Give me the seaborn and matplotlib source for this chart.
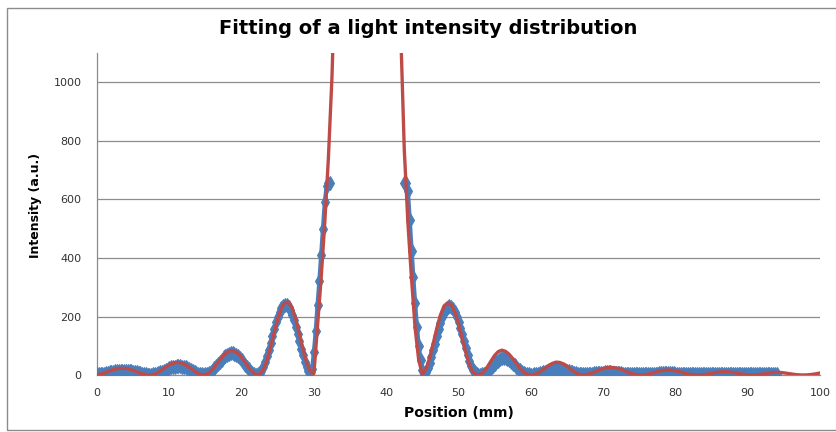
import numpy as np
import pandas as pd
import matplotlib
matplotlib.use('Agg')
import matplotlib.pyplot as plt
from matplotlib.patches import Rectangle
import seaborn as sns

# Fitted curve, sampled every 0.5 mm from 0 to 100 mm
fit_step = 0.5
fit_intensity = [
    1, 3, 7, 12, 16.5, 20, 22.5, 23, 22.5, 20,
    16, 11, 6.5, 3, 1, 0.5, 3.5, 10, 18, 27,
    35, 40, 43, 42, 38, 31, 22, 13, 5, 1,
    1.5, 8, 20, 36, 52, 67, 78, 83, 82, 74,
    60, 43, 25, 10, 2, 3, 18, 50, 95, 145,
    192, 228, 247, 249, 228, 190, 140, 88, 42, 12,
    5, 170, 330, 520, 740, 1020, 1430, 1950, 2525, 3115,
    3695, 4220, 4660, 4990, 5185, 5230, 5125, 4875, 4495, 4015,
    3465, 2880, 2290, 1735, 1180, 770, 520, 330, 160, 50,
    3, 20, 58, 108, 160, 205, 236, 247, 240, 215,
    176, 126, 78, 35, 10, 1, 2, 11, 28, 48,
    67, 80, 85, 81, 71, 56, 39, 23, 10, 3,
    0, 2, 7, 15, 24, 33, 40, 44, 43, 38,
    30, 20, 11, 4, 1, 0.5, 3, 7, 12, 17,
    22, 25, 26, 25.5, 23, 19, 14, 9, 4.5, 1.5,
    0, 0.5, 2, 4.5, 8, 11.5, 14.5, 16.5, 17, 16.5,
    14.5, 12, 8.5, 5, 2.5, 0.5, 0, 0.5, 1.5, 3.5,
    6, 8.5, 10, 11, 11, 10, 8.5, 6.5, 4, 2,
    0.7, 0, 0.3, 1.2, 3, 5, 7, 8.5, 9, 8.7,
    7.5, 5.7, 3.7, 2, 0.7, 0.1, 0.2, 1, 2.5, 4.5,
    7,
]

# Measured intensity, sampled every 0.25 mm from 0 to 94 mm (saturated part missing)
nan = np.nan
measured_step = 0.25
measured_intensity = [
    2, 2, 3, 4, 5, 6, 8, 9, 11, 12, 13, 14, 14.5, 15, 15, 15, 15, 14.5, 14, 13,
    12, 10.5, 9, 7.5, 6, 4.5, 3, 2, 1.5, 1, 1, 2, 3, 5, 7, 9, 12, 15, 18, 21,
    24, 26, 28, 29, 30, 30, 30, 29, 28, 26, 23, 20, 17, 14, 11, 8, 5, 3, 2, 1,
    2, 4, 7, 12, 18, 25, 32, 39, 46, 53, 60, 65, 70, 73, 74, 74, 72, 69, 64, 58,
    51, 43, 35, 27, 19, 12, 7, 3, 1, 3, 8, 15, 28, 45, 65, 87, 110, 135, 158, 180,
    199, 216, 228, 236, 240, 240, 232, 222, 206, 187, 164, 140, 115, 90, 67, 45, 29, 15, 6, 20,
    80, 150, 240, 320, 410, 500, 590, 645, 655, 655, nan, nan, nan, nan, nan, nan, nan, nan, nan, nan,
    nan, nan, nan, nan, nan, nan, nan, nan, nan, nan, nan, nan, nan, nan, nan, nan, nan, nan, nan, nan,
    nan, nan, nan, nan, nan, nan, nan, nan, nan, nan, 655, 655, 630, 530, 425, 335, 245, 165, 100, 50,
    18, 4, 11, 23, 40, 60, 84, 107, 132, 157, 178, 198, 213, 225, 232, 235, 232, 226, 215, 200,
    181, 162, 139, 115, 92, 70, 49, 30, 18, 9, 4, 1.5, 1, 2, 4, 7, 12, 17, 23, 30,
    37, 43, 49, 54, 57, 58, 57, 54, 50, 45, 39, 33, 27, 21, 16, 11, 7, 5, 3, 2,
    1.5, 1.5, 2, 3, 4, 6, 8, 10, 12, 14, 16, 18, 20, 21, 22, 22, 21.5, 20.5, 19, 17,
    15, 13, 11, 9, 7, 5.5, 4, 3, 2.5, 2, 2, 2.5, 3, 3.5, 4.5, 5.5, 6.5, 7, 7.5, 8,
    8.5, 9, 9, 9, 9, 8.5, 8, 7.5, 7, 6.5, 6, 5, 4.5, 4, 3.5, 3, 2.5, 2.5, 2, 2,
    2, 2, 2.5, 3, 3, 3.5, 4, 4, 4.5, 5, 5, 5.5, 5.5, 6, 6, 6, 6, 6, 5.5, 5.5,
    5, 5, 4.5, 4, 4, 3.5, 3, 3, 2.5, 2.5, 2.5, 2.5, 2.5, 2.5, 3, 3, 3, 3.5, 3.5, 4,
    4, 4, 4.5, 4.5, 4.5, 4.5, 4.5, 4.5, 4.5, 4, 4, 4, 3.5, 3.5, 3, 3, 3, 2.5, 2.5, 2.5,
    2.5, 2.5, 2.5, 2.5, 2.5, 3, 3, 3, 3, 3.5, 3.5, 3.5, 3.5, 3.5, 3.5, 3.5, 3.5,
]

x_ticks = list(range(0, 101, 10))
y_ticks = list(range(0, 1001, 200))

BLUE = '#4a7ebb'
RED = '#be4b48'
GRID = '#8c8c8c'

fit_df = pd.DataFrame({
    'position': np.arange(len(fit_intensity)) * fit_step,
    'intensity': fit_intensity,
})
meas_df = pd.DataFrame({
    'position': np.arange(len(measured_intensity)) * measured_step,
    'intensity': measured_intensity,
})
# split in two pieces so the line is not drawn across the saturated gap
meas_df['segment'] = np.where(meas_df['position'] < 37.5, 'left', 'right')
meas_df = meas_df.dropna()

sns.set_style('white')
plt.rcParams['font.family'] = ['DejaVu Sans']
plt.rcParams['text.color'] = 'black'

fig = plt.figure(figsize=(8.37, 4.32), dpi=100)
ax = fig.add_axes([0.1159, 0.1319, 0.8638, 0.745])

sns.lineplot(data=meas_df, x='position', y='intensity', units='segment',
             estimator=None, sort=False, color=BLUE, lw=3, marker='d',
             markersize=7.5, markeredgecolor=BLUE, ax=ax, zorder=3)
sns.lineplot(data=fit_df, x='position', y='intensity', color=RED, lw=2.4,
             ax=ax, zorder=4)

ax.set_xlim(0, 100)
ax.set_ylim(0, 1100)
ax.set_xticks(x_ticks)
ax.set_yticks(y_ticks)
ax.grid(axis='y', color=GRID, lw=0.9)
ax.grid(axis='x', visible=False)
for side in ['top', 'right']:
    ax.spines[side].set_visible(False)
for side in ['left', 'bottom']:
    ax.spines[side].set_color(GRID)
    ax.spines[side].set_linewidth(0.9)
ax.tick_params(axis='x', length=3, width=0.9, color=GRID, direction='out',
               labelsize=8, labelcolor='#333333', pad=6)
ax.tick_params(axis='y', length=0, labelsize=8, labelcolor='#333333', pad=11)
ax.set_xlabel('')
ax.set_ylabel('')

fig.text(428 / 837, 1 - 28 / 432, 'Fitting of a light intensity distribution',
         ha='center', va='center', fontsize=14, fontweight='bold', color='black')
fig.text(459 / 837, 1 - 413 / 432, 'Position (mm)', ha='center', va='center',
         fontsize=10, fontweight='bold', color='black')
fig.text(36 / 837, 1 - 205 / 432, 'Intensity (a.u.)', ha='center', va='center',
         rotation=90, fontsize=9, fontweight='bold', color='black')

# outer chart frame
fig.add_artist(Rectangle((0.0084, 0.0046), 1.1, 0.977, transform=fig.transFigure,
                         fill=False, edgecolor='#8c8c8c', lw=1))

fig.savefig('out.png', dpi=100)
plt.close(fig)
